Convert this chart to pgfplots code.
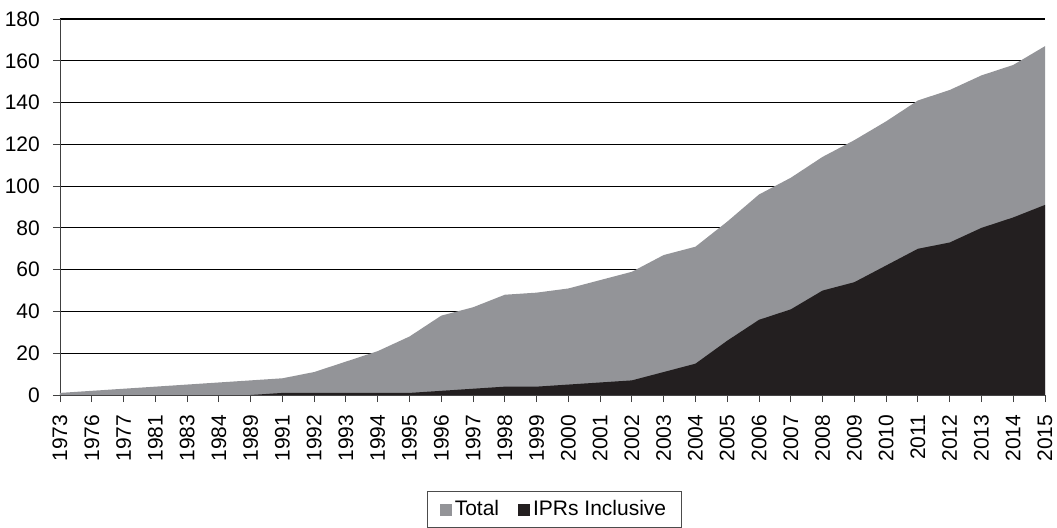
\documentclass[border=0pt]{standalone}
\usepackage{pgfplots}
\pgfplotsset{compat=1.18}
\usepackage{fontspec}
\setmainfont{Liberation Sans}
\definecolor{totalgray}{RGB}{147,148,152}
\definecolor{iprblack}{RGB}{35,31,32}
\begin{document}
\fontsize{21bp}{25bp}\selectfont
\begin{tikzpicture}
\useasboundingbox (-60bp,-133bp) rectangle (997bp,395bp);
\begin{axis}[
    scale only axis,
    width=985bp, height=376bp,
    xmin=0, xmax=31,
    ymin=0, ymax=180,
    ytick={0,20,...,180},
    xtick={0,...,31},
    xticklabels={1973,1976,1977,1981,1983,1984,1989,1991,1992,1993,1994,1995,1996,1997,1998,1999,2000,2001,2002,2003,2004,2005,2006,2007,2008,2009,2010,2011,2012,2013,2014,2015},
    x tick label style={rotate=90, anchor=east, inner sep=0pt, xshift=-1.5bp},
    xticklabel shift=11bp,
    yticklabel shift=6bp,
    axis lines=left,
    axis line style={-, draw=black!75, line width=1pt},
    tick align=outside,
    major tick length=7bp,
    tick style={black!75, line width=1pt},
    ymajorgrids,
    grid style={black, line width=1.1pt},
    /pgf/number format/assume math mode=true,
    tick label style={font=\fontsize{21bp}{25bp}\selectfont},
    legend columns=2,
    legend style={at={(0.502,-0.255)}, anchor=north, draw=black!70, line width=0.8pt,
        font=\fontsize{21bp}{25bp}\selectfont, inner xsep=12bp, inner ysep=7bp,
        nodes={inner xsep=3bp},
        /tikz/every even column/.append style={column sep=16bp}},
    legend image code/.code={\fill[#1] (0bp,-7bp) rectangle (12bp,5bp);},
]
\addplot[fill=totalgray, draw=none] coordinates {
(0,1) (1,2) (2,3) (3,4) (4,5) (5,6) (6,7) (7,8) (8,11) (9,16)
(10,21) (11,28) (12,38) (13,42) (14,48) (15,49) (16,51) (17,55) (18,59) (19,67)
(20,71) (21,83) (22,96) (23,104) (24,114) (25,122) (26,131) (27,141) (28,146) (29,153)
(30,158) (31,167)
} \closedcycle;
\addlegendentry{Total}
\addplot[fill=iprblack, draw=none] coordinates {
(0,0) (1,0) (2,0) (3,0) (4,0) (5,0) (6,0) (7,1) (8,1) (9,1)
(10,1) (11,1) (12,2) (13,3) (14,4) (15,4) (16,5) (17,6) (18,7) (19,11)
(20,15) (21,26) (22,36) (23,41) (24,50) (25,54) (26,62) (27,70) (28,73) (29,80)
(30,85) (31,91)
} \closedcycle;
\addlegendentry{IPRs Inclusive}
\end{axis}
\end{tikzpicture}
\end{document}
